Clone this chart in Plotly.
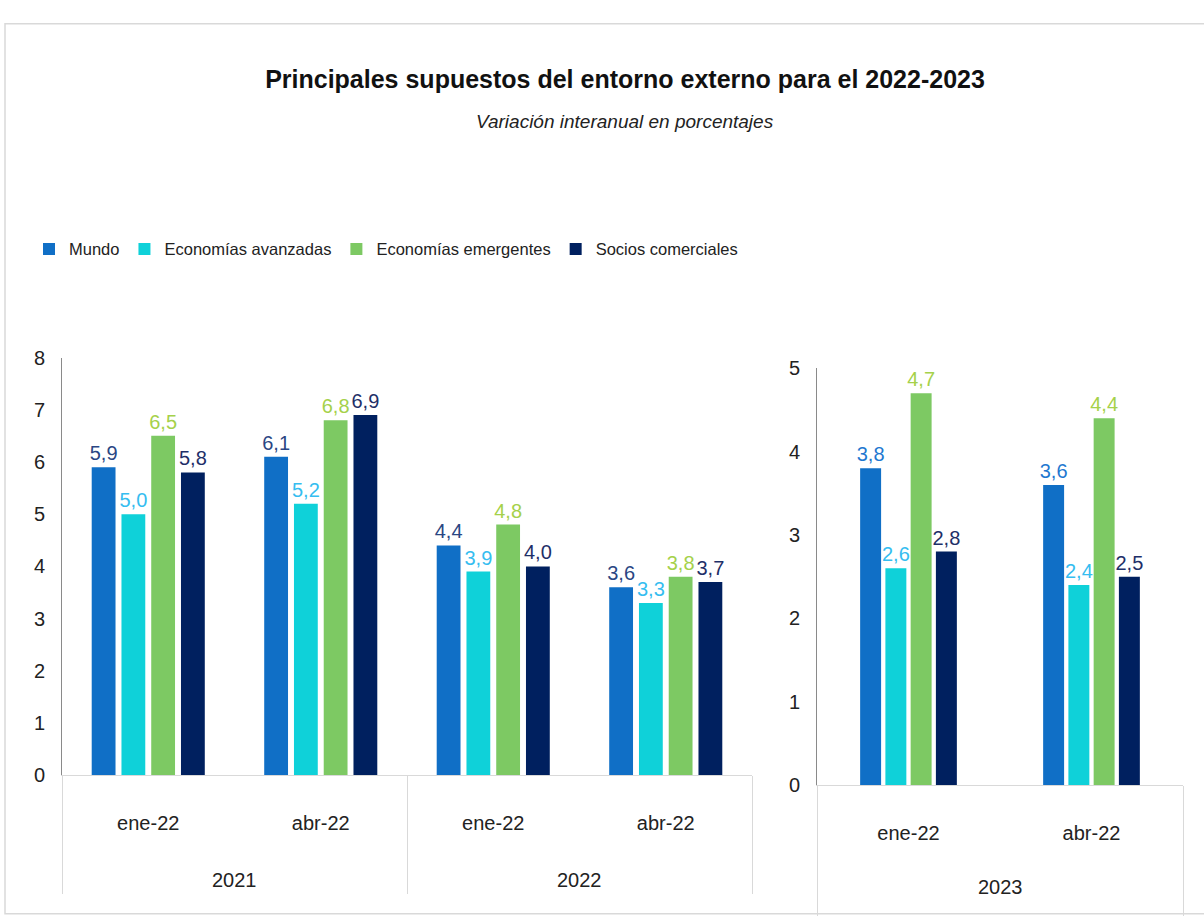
import plotly.graph_objects as go

# ---- data ----
series = ["Mundo", "Economías avanzadas", "Economías emergentes", "Socios comerciales"]
left_years = ["2021", "2021", "2022", "2022"]
left_months = ["ene-22", "abr-22", "ene-22", "abr-22"]
right_years = ["2023", "2023"]
right_months = ["ene-22", "abr-22"]

left_values = {
    "Mundo": [5.9, 6.1, 4.4, 3.6],
    "Economías avanzadas": [5.0, 5.2, 3.9, 3.3],
    "Economías emergentes": [6.5, 6.8, 4.8, 3.8],
    "Socios comerciales": [5.8, 6.9, 4.0, 3.7],
}
right_values = {
    "Mundo": [3.8, 3.6],
    "Economías avanzadas": [2.6, 2.4],
    "Economías emergentes": [4.7, 4.4],
    "Socios comerciales": [2.8, 2.5],
}

bar_colors = ["#106fc6", "#0fd1d9", "#7dc963", "#00205f"]
label_colors_left = ["#2a4683", "#35bdf0", "#a5d14a", "#1e2f68"]
label_colors_right = ["#1f78d0", "#35bdf0", "#a5d14a", "#1e2f68"]

FONT = "Liberation Sans, Arial, sans-serif"
W, H = 1204, 919


def fx(px):
    return px / W


def fy(py):
    return 1 - py / H


def fmt(v):
    return f"{v:.1f}".replace(".", ",")


def group_info(years):
    """positions of categories, year-group centres and boundaries"""
    pos = list(range(len(years)))
    bounds = [-0.5]
    centres, names = [], []
    start = 0
    for i in range(1, len(years) + 1):
        if i == len(years) or years[i] != years[start]:
            bounds.append(i - 0.5)
            centres.append((start + i - 1) / 2)
            names.append(years[start])
            start = i
    return pos, bounds, centres, names


lpos, lbounds, lcentres, lnames = group_info(left_years)
rpos, rbounds, rcentres, rnames = group_info(right_years)

# right panel bar geometry (fractions of one category slot)
R_GROUP = 0.552
R_SLOT = R_GROUP / len(series)
R_WIDTH = R_SLOT * 0.83

fig = go.Figure()

for i, s in enumerate(series):
    fig.add_trace(go.Bar(
        x=lpos, y=left_values[s], name=s,
        marker=dict(color=bar_colors[i], line=dict(width=0)),
        text=[fmt(v) for v in left_values[s]], textposition="outside",
        constraintext="none",
        textfont=dict(color=label_colors_left[i], size=20, family=FONT),
        cliponaxis=False, xaxis="x", yaxis="y", showlegend=True,
    ))
for i, s in enumerate(series):
    fig.add_trace(go.Bar(
        x=rpos, y=right_values[s], name=s,
        width=R_WIDTH,
        offset=-R_GROUP / 2 + i * R_SLOT + (R_SLOT - R_WIDTH) / 2,
        marker=dict(color=bar_colors[i], line=dict(width=0)),
        text=[fmt(v) for v in right_values[s]], textposition="outside",
        constraintext="none",
        textfont=dict(color=label_colors_right[i], size=20, family=FONT),
        cliponaxis=False, xaxis="x2", yaxis="y2", showlegend=False,
    ))

tickfont = dict(size=20, color="#222222", family=FONT)
DIV = "#d9d9d9"


def month_axis(domain, anchor, rng, pos, labels, bounds, divlen):
    return dict(
        domain=domain, anchor=anchor, range=rng, showgrid=False, zeroline=False,
        showline=True, linecolor=DIV, linewidth=1,
        tickmode="array", tickvals=pos, ticktext=labels, ticks="",
        ticklabelstandoff=30, tickfont=tickfont,
        minor=dict(tickmode="array", tickvals=bounds, ticks="outside",
                   ticklen=divlen, tickcolor=DIV, tickwidth=1, showgrid=False),
    )


ldom = [fx(62), fx(752)]
rdom = [fx(817), fx(1183)]
lrng = [-0.5, len(left_years) - 0.5]
rrng = [-0.5, len(right_years) - 0.5]

annotations = [dict(text="<i>Variación interanual en porcentajes</i>", xref="paper",
                    yref="paper", x=fx(625), y=fy(113), xanchor="center",
                    yanchor="middle", showarrow=False,
                    font=dict(size=19, family=FONT, color="#222222"))]
for c, n in zip(lcentres, lnames):
    annotations.append(dict(text=n, xref="x", yref="paper", x=c, y=fy(890),
                            xanchor="center", yanchor="middle", showarrow=False,
                            font=tickfont))
for c, n in zip(rcentres, rnames):
    annotations.append(dict(text=n, xref="x2", yref="paper", x=c, y=fy(897),
                            xanchor="center", yanchor="middle", showarrow=False,
                            font=tickfont))

fig.update_layout(
    width=W, height=H,
    margin=dict(l=0, r=0, t=0, b=0),
    paper_bgcolor="white", plot_bgcolor="white",
    font=dict(family=FONT, color="#222222"),
    barmode="group", bargap=0.31, bargroupgap=0.2,
    showlegend=True,
    legend=dict(orientation="h", x=fx(29), y=fy(244), xanchor="left", yanchor="middle",
                font=dict(size=16.5, family=FONT, color="#222222"),
                itemwidth=30, tracegroupgap=0, bgcolor="rgba(0,0,0,0)"),
    title=dict(
        text="<b>Principales supuestos del entorno externo para el 2022-2023</b>",
        x=fx(625), y=fy(70), xanchor="center", yanchor="top",
        font=dict(size=25, family=FONT, color="#111111"),
    ),
    annotations=annotations,
    xaxis=month_axis(ldom, "y", lrng, lpos, left_months, lbounds, 118),
    yaxis=dict(domain=[fy(783), fy(355)], range=[0, 8], dtick=1, anchor="x",
               showgrid=False, zeroline=False, showline=True, linecolor="#8a8a8a",
               ticks="", tickfont=tickfont, ticklabelstandoff=12),
    xaxis2=month_axis(rdom, "y2", rrng, rpos, right_months, rbounds, 130),
    yaxis2=dict(domain=[fy(793), fy(366)], range=[0, 5], dtick=1, anchor="x2",
                showgrid=False, zeroline=False, showline=True, linecolor="#8a8a8a",
                ticks="", tickfont=tickfont, ticklabelstandoff=12),
    shapes=[dict(type="rect", xref="paper", yref="paper", x0=fx(5), x1=fx(1210),
                 y0=fy(925), y1=fy(13), line=dict(color=DIV, width=1.5))],
)

fig.write_html("out.html")
